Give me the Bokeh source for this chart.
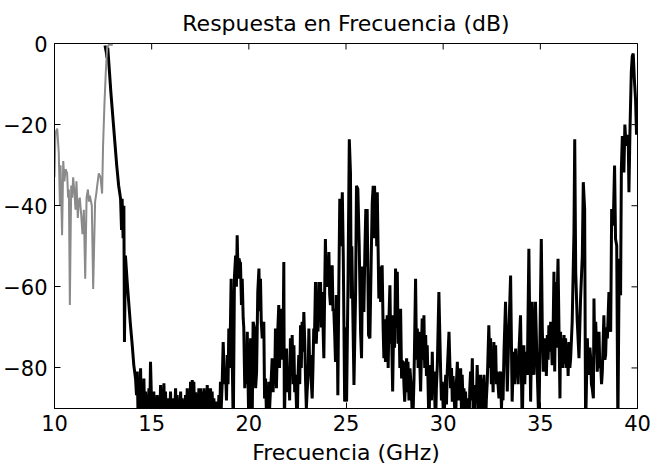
from math import pi
from bokeh.plotting import figure
from bokeh.models import Range1d, FixedTicker, Label
from bokeh.embed import file_html
from bokeh.resources import INLINE

# ---------------- data ----------------
title_text = "Respuesta en Frecuencia (dB)"
x_label = "Frecuencia (GHz)"
x_ticks = [10, 15, 20, 25, 30, 35, 40]
y_ticks = [-80, -60, -40, -20, 0]
x_lim = [10, 40]
y_lim = [-90, 0]

# grey trace (prototype response), GHz / dB
gray_ghz = [10.00, 10.05, 10.14, 10.22, 10.28, 10.31, 10.39, 10.45, 10.51, 10.57,
            10.65, 10.70, 10.74, 10.79, 10.86, 10.91, 10.96, 11.03, 11.08, 11.13,
            11.20, 11.25, 11.30, 11.37, 11.44, 11.51, 11.58, 11.65, 11.72, 11.77,
            11.82, 11.92, 11.99, 12.09, 12.15, 12.20, 12.28, 12.37, 12.45, 12.50,
            12.57, 12.64, 12.71, 12.80, 13.00]
gray_db = [-33, -22, -21, -27, -40, -30, -47.3, -29, -34, -31,
           -32, -38, -36, -64.5, -35, -38, -33, -37, -41, -34,
           -43, -39, -38, -42, -47, -41, -58, -38, -36, -39,
           -37.5, -40, -60.5, -39, -37, -35, -32, -33, -37, -25,
           -15, -7, -1, -0.3, -0.3]

# black trace, segment 1: pass band and roll-off
blk1_ghz = [12.60, 12.66, 12.70, 12.74, 12.80, 12.90, 13.00, 13.10, 13.20, 13.30,
            13.40, 13.45, 13.48, 13.53, 13.57, 13.60, 13.65, 13.74, 13.83, 13.91,
            14.00, 14.08, 14.17, 14.22]
blk1_db = [-0.5, -2, -3.5, -1, -5, -12, -18, -24, -30, -35,
           -38.3, -46, -38.3, -48, -40, -73.6, -52.3, -58.8, -64.5, -69.5,
           -74.4, -79.3, -82.6, -86.7]

# segment 2: stop-band floor
blk2_ghz = [14.26, 14.30, 14.34, 14.38, 14.43, 14.47, 14.51, 14.56, 14.60, 14.64,
            14.68, 14.77, 14.86, 14.90, 14.94, 15.03, 15.11, 15.15, 15.20, 15.24,
            15.28, 15.33, 15.37, 15.41, 15.46, 15.50, 15.54, 15.58, 15.63, 15.67,
            15.71, 15.76, 15.80, 15.84, 15.88, 15.93, 15.97, 16.01, 16.06, 16.10,
            16.14, 16.18, 16.23, 16.27, 16.31, 16.35, 16.40, 16.44, 16.49, 16.53,
            16.57, 16.61, 16.66, 16.70, 16.74, 16.79, 16.83, 16.87, 16.91, 16.96,
            17.00, 17.04, 17.09, 17.13, 17.17, 17.21, 17.26, 17.30, 17.34, 17.38,
            17.43, 17.47, 17.51, 17.56, 17.60, 17.64, 17.69, 17.73, 17.77, 17.81,
            17.86, 17.90, 17.94, 17.99, 18.03, 18.07, 18.11, 18.16, 18.20, 18.24,
            18.29, 18.33, 18.37, 18.42, 18.46, 18.50, 18.54, 18.58, 18.63]
blk2_db = [-80.9, -92, -84.2, -92, -80.1, -92, -85.8, -92, -82.6, -92,
           -85.8, -95, -85, -92, -78.5, -95, -85.8, -92, -88.3, -92,
           -86.7, -92, -88.3, -92, -84.2, -92, -87.5, -92, -83.8, -92,
           -85.8, -92, -88.3, -92, -87.5, -92, -85.8, -92, -88.3, -92,
           -87.5, -92, -85, -92, -86.7, -92, -88.3, -92, -85.8, -92,
           -87.5, -92, -88.3, -92, -86.7, -92, -85, -92, -87.5, -92,
           -83.4, -92, -83.0, -92, -83.4, -92, -86, -92, -86.7, -92,
           -85, -92, -85, -92, -85.8, -92, -85, -92, -86.7, -92,
           -84.2, -92, -85, -92, -85, -92, -85.8, -92, -87.5, -92,
           -88.3, -92, -89, -92, -86.7, -92, -83.4, -90, -83.4]

# segment 3: first spurious band
blk3_ghz = [18.68, 18.75, 18.80, 18.85, 18.89, 18.93, 18.97, 19.02, 19.06, 19.09,
            19.14, 19.20, 19.26, 19.32, 19.36, 19.40, 19.45, 19.49, 19.54, 19.57,
            19.62, 19.66, 19.71, 19.74, 19.79, 19.83, 19.88, 19.92, 20.00, 20.09,
            20.13, 20.17, 20.22, 20.29, 20.35, 20.40, 20.46, 20.52, 20.56, 20.60,
            20.64, 20.69, 20.73, 20.77, 20.81, 20.86, 20.90, 20.94, 20.99, 21.03,
            21.07, 21.11, 21.16, 21.20, 21.25, 21.29, 21.33, 21.37, 21.42, 21.48,
            21.54, 21.58, 21.63, 21.67, 21.71, 21.76, 21.80, 21.83, 21.88, 21.94,
            22.00, 22.06, 22.10, 22.14, 22.19, 22.23, 22.28, 22.32, 22.36, 22.40,
            22.49, 22.53, 22.57, 22.62, 22.66, 22.70, 22.74, 22.79, 22.83, 22.88,
            22.92, 22.96, 23.00, 23.05, 23.09, 23.13, 23.17, 23.22, 23.26, 23.30,
            23.34, 23.38, 23.43, 23.47, 23.52, 23.56, 23.60, 23.65, 23.69, 23.73,
            23.77, 23.82, 23.86, 23.90, 23.94, 23.99, 24.03, 24.08, 24.12, 24.16,
            24.20, 24.25, 24.29, 24.33, 24.37, 24.42, 24.46, 24.50, 24.55, 24.58]
blk3_db = [-73.6, -84, -80, -88, -76.8, -84, -70.3, -80, -67, -58,
           -76, -95, -57.5, -52.3, -60, -47.3, -58, -53, -54, -54,
           -64.5, -58, -67.8, -70, -85, -76.8, -84, -71.1, -95, -72.7,
           -82, -95, -68.6, -70.3, -85, -80.9, -61.3, -55.5, -66, -58,
           -68.6, -72.7, -70.3, -68.6, -87.5, -82.6, -90, -85, -92, -83.4,
           -90, -85.8, -82, -77.6, -86, -77.6, -84, -70.3, -85, -72,
           -64.5, -80, -65.4, -78, -67, -75, -53.9, -95, -78, -75.2,
           -86, -80.9, -88, -72.7, -82, -71.9, -84, -74.4, -86, -81.7,
           -95, -82, -76.8, -84, -69.5, -80, -68.6, -76, -66.2, -74,
           -83.4, -90, -85.8, -82, -70.3, -80, -76.8, -84, -87.5, -80,
           -70.3, -72, -58.8, -74, -67, -71, -58.8, -66, -58.8, -70,
           -61.3, -70, -77.6, -62, -48.2, -60, -53.1, -60, -51.4, -62,
           -64.5, -58, -54.7, -66, -65.4, -72, -78.5, -62, -69.5, -86.7]

# segment 4: band around 25-27 GHz
blk4_ghz = [24.63, 24.68, 24.74, 24.81, 24.86, 24.93, 24.98, 25.03, 25.10, 25.17,
            25.23, 25.27, 25.30, 25.34, 25.41, 25.49, 25.54, 25.61, 25.68, 25.75,
            25.80, 25.85, 25.92, 25.97, 26.02, 26.06, 26.09, 26.16, 26.23, 26.30,
            26.35, 26.40, 26.44, 26.47, 26.51, 26.54, 26.58, 26.61, 26.69, 26.73,
            26.78, 26.86, 26.91, 26.95, 27.00, 27.03, 27.08, 27.12, 27.17, 27.21,
            27.26, 27.30, 27.33, 27.40, 27.46, 27.50, 27.55, 27.60, 27.64, 27.68,
            27.72, 27.77, 27.81, 27.86, 27.89, 27.95, 27.98, 28.02]
blk4_db = [-60, -38.3, -50, -36.7, -52.3, -88.3, -70, -88.3, -60.4, -23.6,
           -31.8, -62.9, -50, -62.9, -84.2, -62.9, -35.1, -35.9, -49.8, -71.1,
           -77.6, -55, -66.2, -51.4, -40.8, -55, -40.8, -71.9, -72.7, -52.3,
           -39.2, -35.1, -48, -35.1, -45, -36.7, -50, -36.7, -62.9, -55,
           -63.7, -54.7, -70, -77.6, -68, -78.5, -72, -67, -80, -67.8,
           -59.6, -74, -67, -85.8, -67, -75, -55.5, -70, -56.3, -74,
           -65.4, -80, -65.4, -82.6, -78.5, -78.5, -84, -88.3]

# segment 5: valley around 28-32 GHz
blk5_ghz = [28.07, 28.12, 28.16, 28.19, 28.24, 28.29, 28.36, 28.43, 28.50, 28.58,
            28.63, 28.67, 28.71, 28.75, 28.84, 28.92, 28.96, 29.01, 29.05, 29.10,
            29.14, 29.18, 29.27, 29.31, 29.35, 29.40, 29.44, 29.48, 29.53, 29.61,
            29.65, 29.70, 29.78, 29.87, 29.91, 29.95, 30.04, 30.09, 30.13, 30.17,
            30.21, 30.30, 30.38, 30.43, 30.47, 30.51, 30.55, 30.64, 30.68, 30.73,
            30.77, 30.81, 30.86, 30.90, 30.94, 30.98, 31.03, 31.07, 31.11, 31.15,
            31.20, 31.24, 31.33, 31.37, 31.41, 31.45, 31.50, 31.54, 31.58, 31.63,
            31.67, 31.71]
blk5_db = [-82, -77.6, -86, -78.5, -88, -80.1, -85, -95, -82.6, -58,
           -78, -70.3, -80, -71.1, -85.8, -67.8, -78, -67, -80, -71.9,
           -82, -74.4, -95, -84, -79.3, -88, -76, -86, -80.9, -95,
           -85, -79.3, -61.3, -80.9, -88, -83.4, -95, -86, -81.7, -89,
           -80.9, -71.1, -85, -80, -88.3, -82, -85.8, -95, -84, -78.5,
           -88, -80.1, -88, -80.1, -90, -81.7, -90, -85, -92, -85.8,
           -92, -87.5, -95, -85, -80.9, -88, -77.6, -90, -85.8, -92,
           -84.2, -88]

# segment 6: rise around 32-35 GHz
blk6_ghz = [31.75, 31.84, 31.88, 31.92, 31.97, 32.01, 32.05, 32.10, 32.18, 32.22,
            32.27, 32.35, 32.40, 32.44, 32.48, 32.52, 32.57, 32.61, 32.65, 32.70,
            32.74, 32.78, 32.87, 32.91, 32.95, 33.00, 33.04, 33.08, 33.13, 33.21,
            33.30, 33.38, 33.47, 33.55, 33.60, 33.64, 33.68, 33.73, 33.77, 33.81,
            33.86, 33.90, 33.98, 34.07, 34.11, 34.15, 34.20, 34.24, 34.33, 34.41,
            34.50, 34.58, 34.63, 34.67, 34.75, 34.84, 34.93, 34.98, 35.05]
blk6_db = [-79.3, -95, -86, -81.7, -90, -82.6, -90, -81.7, -95, -88,
           -83.4, -69.5, -80, -72.7, -84, -77.6, -86, -73.6, -82, -74.4,
           -84, -80.9, -87.5, -82, -80.9, -90, -84.2, -88, -76, -63.7,
           -85.8, -71.1, -57.2, -88.3, -80, -76, -84, -75.2, -82, -77.6,
           -84, -76, -67, -95, -82, -74.4, -84, -76, -81.7, -50.6,
           -88.3, -63.7, -78, -81.7, -63.7, -80.9, -95, -72.7, -48.2]

# segment 7: second pass band near 40 GHz
blk7_ghz = [35.10, 35.15, 35.21, 35.27, 35.31, 35.36, 35.40, 35.44, 35.49, 35.53,
            35.57, 35.61, 35.66, 35.70, 35.74, 35.79, 35.83, 35.87, 35.91, 36.01,
            36.04, 36.09, 36.13, 36.17, 36.22, 36.26, 36.30, 36.35, 36.39, 36.43,
            36.47, 36.52, 36.56, 36.64, 36.73, 36.77, 36.82, 36.90, 36.99, 37.07,
            37.16, 37.21, 37.28, 37.33, 37.42, 37.46, 37.50, 37.55, 37.59, 37.63,
            37.67, 37.73, 37.76, 37.80, 37.85, 37.93, 37.98, 38.02, 38.06, 38.10,
            38.15, 38.19, 38.27, 38.32, 38.36, 38.40, 38.45, 38.53, 38.62, 38.67,
            38.75, 38.82, 38.87, 38.93, 38.99, 39.06, 39.13, 39.17, 39.22, 39.30,
            39.35, 39.39, 39.48, 39.52, 39.56, 39.61, 39.68, 39.73, 39.78, 39.84,
            39.90, 39.95, 40.00]
blk7_db = [-70, -80.9, -75, -72.7, -82, -71.9, -78, -69.5, -76, -68.6,
           -74, -79.3, -70, -56.3, -80.9, -58.8, -75, -62.1, -53.1, -87.5,
           -71.1, -80, -72.7, -80, -71.9, -79, -72.7, -80, -74.4, -82,
           -73.6, -80, -77.6, -68.6, -46.5, -23.6, -56.3, -68.6, -77.6, -62.9,
           -52.3, -34.2, -40.8, -95, -72.7, -80, -81.7, -75, -77.6, -84,
           -85, -87.5, -62.9, -76, -68.6, -80.9, -74, -71.1, -80, -78.5,
           -84, -80.9, -67, -78, -76.8, -70, -72.7, -61.3, -71.1, -40.8,
           -44.9, -30.1, -48.2, -49.8, -95, -53.1, -62.1, -31, -22.8, -31.8,
           -20, -23.6, -25.2, -22.5, -36.7, -22, -7.2, -3.1, -2.5, -9,
           -13.8, -22.5, -18]

segments = [(blk1_ghz, blk1_db), (blk2_ghz, blk2_db), (blk3_ghz, blk3_db),
            (blk4_ghz, blk4_db), (blk5_ghz, blk5_db), (blk6_ghz, blk6_db),
            (blk7_ghz, blk7_db)]
black_ghz, black_db = [], []
for i, (g, d) in enumerate(segments):
    assert len(g) == len(d), (i + 1, len(g), len(d))
    black_ghz += g
    black_db += d
assert len(gray_ghz) == len(gray_db), (len(gray_ghz), len(gray_db))

# ---------------- figure ----------------
FONT = "DejaVu Sans"
FRAME_L, FRAME_R, FRAME_T, FRAME_B = 54, 27, 42, 57
W, H = 664, 465

p = figure(width=W, height=H, output_backend="svg", toolbar_location=None,
           x_range=Range1d(*x_lim), y_range=Range1d(*y_lim),
           min_border_left=FRAME_L, min_border_right=FRAME_R,
           min_border_top=FRAME_T, min_border_bottom=FRAME_B,
           title=title_text)
p.background_fill_color = "white"
p.border_fill_color = "white"
p.outline_line_color = "black"
p.outline_line_width = 1
p.xgrid.visible = False
p.ygrid.visible = False

p.title.align = "center"
p.title.text_font = FONT
p.title.text_font_size = "22px"
p.title.text_font_style = "normal"
p.title.text_color = "black"
p.title.standoff = 16

for ax, ticks, stand in ((p.xaxis[0], x_ticks, 6), (p.yaxis[0], y_ticks, 7)):
    ax.ticker = FixedTicker(ticks=ticks)
    ax.major_tick_in = 6
    ax.major_tick_out = 0
    ax.minor_tick_line_color = None
    ax.axis_line_color = "black"
    ax.major_tick_line_color = "black"
    ax.major_label_text_font = FONT
    ax.major_label_text_font_size = "21px"
    ax.major_label_text_color = "black"
    ax.major_label_standoff = stand

# x-axis title, in the panel below the x axis (screen units within that panel)
frame_w = W - FRAME_L - FRAME_R
p.add_layout(Label(x=frame_w / 2, y=19, x_units="screen", y_units="screen",
                   text=x_label, text_align="center", text_baseline="top",
                   text_font=FONT, text_font_size="22px", text_color="black"),
             "below")

# inward tick marks on the top and right edges of the box (MATLAB style)
p.scatter(x_ticks, [y_lim[1]] * len(x_ticks), marker="dash", angle=pi / 2,
          size=12, line_color="black", line_width=1)
p.scatter([x_lim[1]] * len(y_ticks), y_ticks, marker="dash", angle=0,
          size=12, line_color="black", line_width=1)

p.line(black_ghz, black_db, line_color="black", line_width=3)
p.line(gray_ghz, gray_db, line_color="#8a8a8a", line_width=2)

open("out.html", "w").write(file_html(p, INLINE))
